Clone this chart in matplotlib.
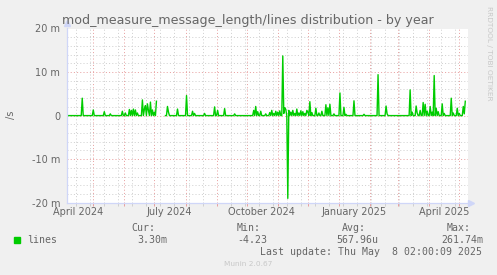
import numpy as np
import pandas as pd
import matplotlib
matplotlib.use("Agg")
import matplotlib.pyplot as plt
import matplotlib.dates as mdates
from matplotlib.patches import Rectangle

# daily averages in milli-lines per second; days not listed are 0
first_day = "2024-04-05"
last_day = "2025-05-07"
spike_days = [
    "2024-04-20", "2024-05-01", "2024-05-12", "2024-05-18", "2024-05-30",
    "2024-06-02", "2024-06-06", "2024-06-08", "2024-06-10", "2024-06-12",
    "2024-06-14", "2024-06-19", "2024-06-21", "2024-06-22", "2024-06-24",
    "2024-06-25", "2024-06-27", "2024-06-29", "2024-07-01", "2024-07-03",
    "2024-07-14", "2024-07-15", "2024-07-24", "2024-08-02", "2024-08-08",
    "2024-08-10", "2024-08-20", "2024-08-30", "2024-09-02", "2024-09-09",
    "2024-09-19", "2024-10-08", "2024-10-10", "2024-10-12", "2024-10-15",
    "2024-10-20", "2024-10-24", "2024-10-26", "2024-10-28", "2024-10-30",
    "2024-11-01", "2024-11-03", "2024-11-06", "2024-11-07", "2024-11-08",
    "2024-11-09", "2024-11-11", "2024-11-12", "2024-11-14", "2024-11-16",
    "2024-11-18", "2024-11-20", "2024-11-22", "2024-11-24", "2024-11-26",
    "2024-11-28", "2024-11-30", "2024-12-01", "2024-12-03", "2024-12-05",
    "2024-12-09", "2024-12-12", "2024-12-15", "2024-12-19", "2024-12-21",
    "2024-12-23", "2024-12-27", "2025-01-02", "2025-01-06", "2025-01-08",
    "2025-01-16", "2025-01-26", "2025-02-09", "2025-02-17", "2025-02-18",
    "2025-03-13", "2025-03-15", "2025-03-19", "2025-03-20", "2025-03-23",
    "2025-03-26", "2025-03-28", "2025-03-30", "2025-04-02", "2025-04-04",
    "2025-04-06", "2025-04-08", "2025-04-10", "2025-04-14", "2025-04-16",
    "2025-04-23", "2025-04-25", "2025-04-29", "2025-05-01", "2025-05-05",
    "2025-05-06", "2025-05-07",
]
spike_vals = [
    4.0, 1.3, 0.9, 0.4, 1.0,
    0.6, 1.4, 1.2, 1.5, 1.3,
    0.6, 3.6, 1.5, 2.3, 2.7,
    1.2, 3.1, 1.3, 0.8, 3.3,
    2.1, 0.8, 1.5, 4.6, 1.0,
    0.5, 0.5, 2.0, 1.2, 1.6,
    0.4, 1.2, 2.1, 0.9, 1.0,
    0.4, 0.7, 1.2, 0.5, 1.0,
    0.8, 1.1, 13.7, 0.5, 1.8,
    1.4, -19.0, 1.2, 0.8, 1.2,
    0.5, 1.5, 0.6, 1.1, 0.9,
    0.5, 1.2, 0.8, 3.2, 0.7,
    1.7, 0.6, 1.0, 2.5, 1.8,
    2.6, 0.4, 5.2, 1.9, 0.3,
    3.4, 0.3, 9.4, 2.2, 0.4,
    5.9, 0.8, 2.2, 0.6, 1.2,
    3.0, 2.6, 1.0, 2.1, 0.8,
    9.2, 1.7, 0.9, 2.7, 0.5,
    4.0, 0.6, 1.7, 0.5, 2.1,
    0.4, 3.3,
]
gap_start = "2024-07-04"
gap_end = "2024-07-11"

y_major = [-20, -10, 0, 10, 20]
y_labels = ["-20 m", "-10 m", "0", "10 m", "20 m"]
month_labels = ["2024-04-16", "2024-07-16", "2024-10-16", "2025-01-16", "2025-04-16"]

days = pd.date_range(first_day, last_day, freq="D")
series = pd.Series(0.0, index=days)
series[pd.to_datetime(spike_days)] = spike_vals
series[gap_start:gap_end] = np.nan

W, H = 497, 275
fig = plt.figure(figsize=(W / 100, H / 100), dpi=100, facecolor="#F0F0F0")
left, right, top, bottom = 66.7, 467.7, 28.5, 202.7
ax = fig.add_axes([left / W, 1 - bottom / H, (right - left) / W, (bottom - top) / H])
ax.set_facecolor("white")

ax.plot(series.index, series.values, color="#00CC00", lw=1.0, zorder=3)

ax.set_xlim(pd.Timestamp("2024-04-04 12:00"), pd.Timestamp("2025-05-09 10:00"))
ax.set_ylim(-20, 20)

ax.xaxis.set_major_locator(mdates.MonthLocator())
minor_days = pd.date_range("2024-04-14", "2025-05-09", freq="14D")
ax.set_xticks(mdates.date2num(minor_days), minor=True)
ax.xaxis.set_major_formatter(plt.NullFormatter())
ax.set_yticks(y_major)
ax.set_yticklabels(y_labels)
ax.set_yticks(np.arange(-20, 21, 2), minor=True)

red = "#E8A0A0"
grey = "#D0D0D0"
dot = (0, (1, 2.2))
ax.grid(which="major", color=red, lw=0.72, ls=dot)
ax.grid(which="minor", color=grey, lw=0.72, ls=dot)
ax.set_axisbelow(True)

ax.tick_params(axis="x", which="major", length=2, width=0.72, color=red)
ax.tick_params(axis="x", which="minor", length=2, width=0.72, color=grey)
ax.tick_params(axis="y", which="both", length=0, pad=4.8, labelsize=7, labelcolor="#666666")

for s in ["top", "right"]:
    ax.spines[s].set_visible(False)
for s in ["left", "bottom"]:
    ax.spines[s].set_color("#CFD6F8")
    ax.spines[s].set_linewidth(0.9)
    ax.spines[s].set_zorder(4)

# axis arrows
ax.plot([0], [1.03], marker="^", ms=4, color="#CFD6F8", transform=ax.transAxes,
        clip_on=False, zorder=5)
ax.plot([1.008], [0], marker=">", ms=4, color="#CFD6F8", transform=ax.transAxes,
        clip_on=False, zorder=5)

for d in month_labels:
    ax.text(mdates.date2num(pd.Timestamp(d)), -0.053, pd.Timestamp(d).strftime("%B %Y"),
            transform=ax.get_xaxis_transform(), ha="center", va="center",
            fontsize=7, color="#666666")

fig.text(248.3 / W, 1 - 24.3 / H, "mod_measure_message_length/lines distribution - by year",
         ha="center", va="baseline", fontsize=9.1, color="#666666")
fig.text(11 / W, 1 - 115 / H, "/s", rotation=90, ha="center", va="center",
         fontsize=7, color="#666666")
fig.text(488.5 / W, 1 - 53 / H, "RRDTOOL / TOBI OETIKER", rotation=270, ha="center",
         va="center", fontsize=5.3, color="#C8C8C8")

mono = dict(family="DejaVu Sans Mono", fontsize=7.1, color="#666666", va="baseline")
fig.patches.append(Rectangle((14 / W, 1 - 243 / H), 6 / W, 6 / H, color="#00CC00",
                             transform=fig.transFigure))
fig.text(27 / W, 1 - 243.3 / H, "lines", ha="left", **mono)
heads = ["Cur:", "Min:", "Avg:", "Max:"]
head_x = [131.7, 236.2, 341.7, 446.7]
vals = ["3.30m", "-4.23", "567.96u", "261.74m"]
val_x = [137.0, 236.9, 336.0, 441.3]
for t, x in zip(heads, head_x):
    fig.text(x / W, 1 - 231.3 / H, t, ha="left", **mono)
for t, x in zip(vals, val_x):
    fig.text(x / W, 1 - 243.3 / H, t, ha="left", **mono)
fig.text(482.3 / W, 1 - 255 / H, "Last update: Thu May  8 02:00:09 2025", ha="right", **mono)
fig.text(248 / W, 1 - 264.5 / H, "Munin 2.0.67", ha="center", va="center",
         fontsize=5.3, color="#C8C8C8")

fig.savefig("out.png", dpi=100, facecolor="#F0F0F0")
